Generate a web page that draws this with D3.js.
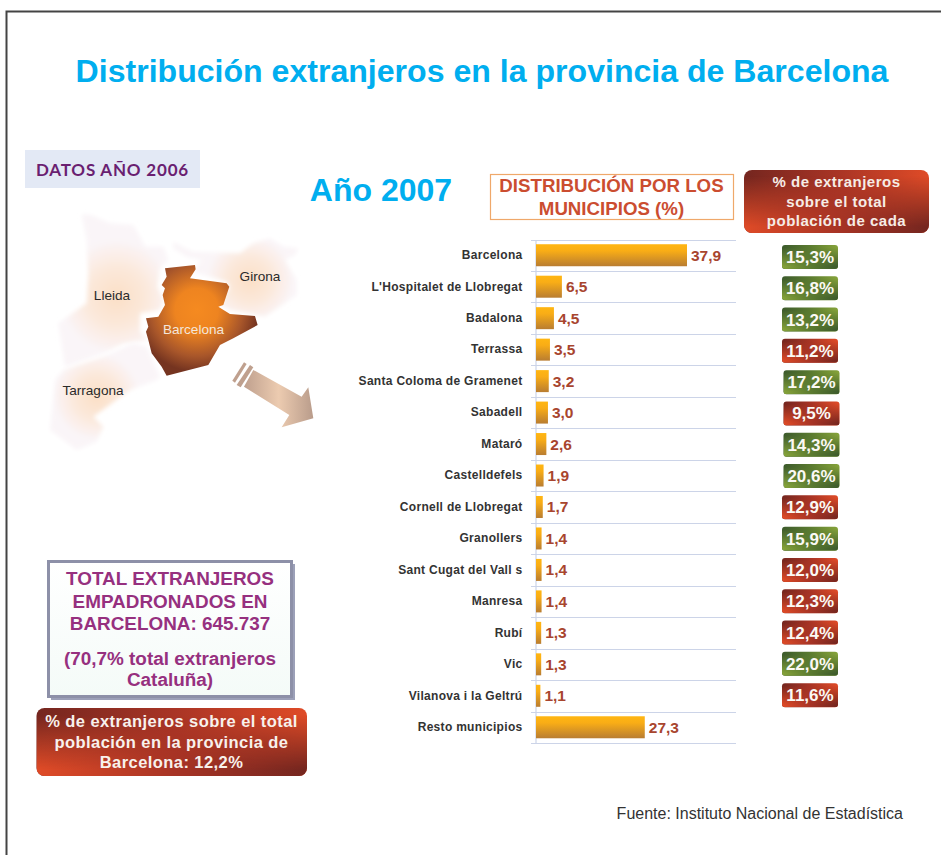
<!DOCTYPE html>
<html lang="es">
<head>
<meta charset="utf-8">
<title>Distribución extranjeros en la provincia de Barcelona</title>
<script src="https://cdn.jsdelivr.net/npm/d3@7"></script>
<style>
html,body{margin:0;padding:0;background:#fff;overflow:hidden}
svg{display:block;font-family:"Liberation Sans",Arial,sans-serif}
</style>
</head>
<body>
<div id="chart"></div>
<script>
const municipios = ["Barcelona","L'Hospitalet de Llobregat","Badalona","Terrassa","Santa Coloma de Gramenet","Sabadell","Mataró","Castelldefels","Cornell de Llobregat","Granollers","Sant Cugat del Vall s","Manresa","Rubí","Vic","Vilanova i la Geltrú","Resto municipios"];
const distribucion = [37.9,6.5,4.5,3.5,3.2,3.0,2.6,1.9,1.7,1.4,1.4,1.4,1.3,1.3,1.1,27.3];
const porcentaje = [15.3,16.8,13.2,11.2,17.2,9.5,14.3,20.6,12.9,15.9,12.0,12.3,12.4,22.0,11.6];
const tituloLineas = ["DISTRIBUCIÓN POR LOS","MUNICIPIOS (%)"];
const cabeceraLineas = ["% de extranjeros","sobre el total","población de cada"];
const totalLineas = ["TOTAL EXTRANJEROS","EMPADRONADOS EN","BARCELONA: 645.737","(70,7% total extranjeros","Cataluña)"];
const mediaLineas = ["% de extranjeros sobre el total","población en la provincia de","Barcelona: 12,2%"];
const mapLabels = ["Lleida","Girona","Barcelona","Tarragona"];

const W = 941, H = 855;
const coma = v => v.toFixed(1).replace(".", ",");
const svg = d3.select("#chart").append("svg").attr("width", W).attr("height", H).attr("viewBox", `0 0 ${W} ${H}`);
const defs = svg.append("defs");

function linear(id, stops, dir) {
  const g = defs.append("linearGradient").attr("id", id)
    .attr("x1", 0).attr("y1", 0).attr("x2", dir === "h" ? 1 : 0).attr("y2", dir === "h" ? 0 : 1);
  stops.forEach(s => g.append("stop").attr("offset", s[0]).attr("stop-color", s[1]));
}
linear("barFill", [[0,"#ffb612"],[0.3,"#f9ad16"],[1,"#b97d31"]], "v");
linear("redA", [[0,"#74261f"],[0.5,"#a83425"],[1,"#df4b27"]], "h");
linear("redB", [[0,"#df4b27"],[0.5,"#a83425"],[1,"#74261f"]], "h");
linear("greenA", [[0,"#3c5a2c"],[0.5,"#5b7b30"],[1,"#86a33a"]], "h");
linear("greenB", [[0,"#86a33a"],[0.5,"#5b7b30"],[1,"#3c5a2c"]], "h");
linear("fadeV", [[0.1,"#000"],[0.9,"#fff"]], "v");
linear("arrowFill", [[0,"#bfa08e"],[0.5,"#eccbb0"],[1,"#b99c8b"]], "h");
linear("boxFill", [[0,"#fff"],[1,"#f4fbf8"]], "v");
defs.append("mask").attr("id", "fade").attr("maskContentUnits", "objectBoundingBox")
  .append("rect").attr("width", 1).attr("height", 1).attr("fill", "url(#fadeV)");
defs.append("filter").attr("id", "soft").attr("x", "-10%").attr("y", "-10%").attr("width", "120%").attr("height", "120%")
  .append("feGaussianBlur").attr("stdDeviation", 6);

function radial(id, cx, cy, r, stops) {
  const g = defs.append("radialGradient").attr("id", id).attr("gradientUnits", "userSpaceOnUse")
    .attr("cx", cx).attr("cy", cy).attr("r", r);
  stops.forEach(s => g.append("stop").attr("offset", s[0]).attr("stop-color", s[1]));
}
const peach = [[0,"#fbdfc6"],[0.5,"#fbe8da"],[1,"#faf5f8"]];
radial("gLleida", 290, 470, 170, peach);
radial("gGirona", 690, 420, 130, peach);
radial("gTarragona", 230, 770, 130, peach);
radial("gBarcelona", 530, 510, 185, [[0,"#f58a20"],[0.35,"#ee8420"],[0.75,"#a8562a"],[1,"#753420"]]);

function gradBox(g, x, y, w, h, r, tone) {
  g.append("rect").attr("x", x).attr("y", y).attr("width", w).attr("height", h).attr("rx", r).attr("fill", `url(#${tone}A)`);
  g.append("rect").attr("x", x).attr("y", y).attr("width", w).attr("height", h).attr("rx", r).attr("fill", `url(#${tone}B)`).attr("mask", "url(#fade)");
}
function lines(g, arr, cx, ys, size, fill, spacing) {
  g.selectAll(null).data(arr).join("text")
    .attr("x", cx).attr("y", (d, i) => ys[i]).attr("text-anchor", "middle")
    .attr("font-size", size).attr("font-weight", "bold").attr("letter-spacing", spacing || 0).attr("fill", fill).text(d => d);
}

// Frame
svg.append("path").attr("d", `M6.5 ${H}V11.5H${W}`).attr("fill", "none").attr("stroke", "#444").attr("stroke-width", 2);

// Titles
svg.append("text").attr("x", 482).attr("y", 82).attr("text-anchor", "middle").attr("font-size", 32.1).attr("font-weight", "bold").attr("fill", "#00aeef")
  .text("Distribución extranjeros en la provincia de Barcelona");
svg.append("text").attr("x", 381).attr("y", 201).attr("text-anchor", "middle").attr("font-size", 32).attr("font-weight", "bold").attr("fill", "#00aeef").text("Año 2007");

// DATOS box
svg.append("rect").attr("x", 25).attr("y", 150).attr("width", 175).attr("height", 38).attr("fill", "#e3e9f5");
svg.append("text").attr("x", 112.5).attr("y", 176).attr("text-anchor", "middle").attr("font-family", "Lato,sans-serif")
  .attr("font-size", 17).attr("letter-spacing", 0.8).attr("font-weight", "bold").attr("fill", "#6a1f71").text("DATOS AÑO 2006");

// Map
const map = svg.append("g").attr("transform", "translate(20,140) scale(0.3333)");
const line = d3.line().curve(d3.curveLinearClosed);
const shapes = [
  ["gLleida", true, [[185,222],[215,226],[270,250],[340,255],[360,290],[375,320],[430,320],[445,360],[420,385],[412,440],[430,480],[420,510],[360,520],[360,575],[385,600],[310,610],[250,640],[135,680],[115,550],[200,490],[205,400],[200,300]]],
  ["gGirona", true, [[460,305],[490,322],[520,335],[660,340],[700,310],[750,295],[790,320],[835,325],[825,345],[795,360],[830,420],[830,465],[735,530],[630,510],[600,495],[630,440],[620,425],[520,395],[545,360],[500,350],[460,325]]],
  ["gTarragona", true, [[340,610],[380,620],[420,710],[410,720],[330,750],[220,830],[250,860],[230,905],[170,930],[90,870],[105,720],[130,690],[250,650]]],
  ["gBarcelona", false, [[435,385],[525,375],[527,388],[510,415],[620,430],[628,440],[610,495],[595,500],[630,522],[705,528],[713,555],[640,595],[600,615],[565,675],[440,707],[425,680],[395,640],[385,600],[378,575],[385,560],[378,535],[415,530],[435,495],[428,465],[435,445],[425,435],[440,410]]]
];
shapes.forEach(s => {
  const p = map.append("path").attr("d", line(s[2])).attr("fill", `url(#${s[0]})`);
  if (s[1]) p.attr("filter", "url(#soft)");
});
const arrow = [
  [[700,690],[845,770],[865,742],[880,835],[785,862],[808,825],[672,740]],
  [[672,667],[680,672],[645,728],[637,722]],
  [[690,675],[700,682],[662,742],[650,735]]
];
map.selectAll(null).data(arrow).join("path").attr("d", d => line(d))
  .attr("fill", (d, i) => i ? "#bfa08e" : "url(#arrowFill)");
const mapLabelX = [112,260,193.5,93], mapLabelY = [300,281,334,395];
svg.selectAll(null).data(mapLabels).join("text")
  .attr("x", (d, i) => mapLabelX[i]).attr("y", (d, i) => mapLabelY[i]).attr("text-anchor", "middle")
  .attr("font-size", 13.6).attr("fill", d => d === "Barcelona" ? "#f3e6da" : "#2a2a2a").text(d => d);

// Column headers
svg.append("rect").attr("x", 490.5).attr("y", 174.5).attr("width", 243).attr("height", 45).attr("fill", "#fff").attr("stroke", "#efa86a").attr("stroke-width", 1.2);
lines(svg, tituloLineas, 611.5, [192,214.5], 18.7, "#cb4d30");
const cab = svg.append("g");
gradBox(cab, 744, 170, 185, 63, 8, "red");
lines(cab, cabeceraLineas, 836.5, [187,206.5,226], 15, "#f6ece6", 0.5);

// Bars
const x = d3.scaleLinear().domain([0, 37.9]).range([536, 687]);
const y = d3.scaleBand().domain(municipios).range([239.5, 743]);
svg.append("g").selectAll("line").data(d3.range(municipios.length + 1)).join("line")
  .attr("x1", 531).attr("x2", 736)
  .attr("y1", i => Math.round(239.5 + i * y.bandwidth()) + 0.5)
  .attr("y2", i => Math.round(239.5 + i * y.bandwidth()) + 0.5)
  .attr("stroke", "#ccd4e8").attr("stroke-width", 1.2);
const axis = svg.append("g").attr("transform", "translate(535.5,0)")
  .call(d3.axisLeft(y).tickSize(0).tickPadding(13));
axis.select(".domain").attr("stroke", "#ccd4e8").attr("stroke-width", 1.2);
axis.selectAll("text").attr("font-family", "'Liberation Sans',Arial,sans-serif").attr("font-size", 12).attr("letter-spacing", 0.3).attr("font-weight", "bold").attr("fill", "#333");
const barH = 22;
svg.selectAll(".bar").data(municipios).join("rect").attr("class", "bar")
  .attr("x", x(0)).attr("width", (d, i) => x(distribucion[i]) - x(0))
  .attr("y", d => y(d) + (y.bandwidth() - barH) / 2).attr("height", barH)
  .attr("fill", "url(#barFill)");
svg.selectAll(".val").data(municipios).join("text").attr("class", "val")
  .attr("x", (d, i) => x(distribucion[i]) + 4)
  .attr("y", d => y(d) + y.bandwidth() / 2 + 5.5)
  .attr("font-size", 15.5).attr("font-weight", "bold").attr("fill", "#a8452e")
  .text((d, i) => coma(distribucion[i]));

// Percentage badges
const bandY = d3.scaleBand().domain(porcentaje.map((d, i) => i)).range([241.3, 710.8]);
const verdes = new Set([15.3,16.8,13.2,17.2,14.3,20.6,15.9,22.0]);
const bw = 56, bh = 24;
porcentaje.forEach((v, i) => {
  const g = svg.append("g").attr("class", "badge");
  const bx = (i >= 4 && i <= 7) ? 783.5 : 782;
  const by = bandY(i) + (bandY.bandwidth() - bh) / 2;
  gradBox(g, bx, by, bw, bh, 3, verdes.has(v) ? "green" : "red");
  g.append("text").attr("x", bx + bw / 2).attr("y", by + 18).attr("text-anchor", "middle")
    .attr("font-size", 17).attr("font-weight", "bold").attr("fill", "#fbf9f4").text(coma(v) + "%");
});

// Total box
svg.append("rect").attr("x", 51).attr("y", 564).attr("width", 244).attr("height", 136).attr("fill", "#9ca0b8");
svg.append("rect").attr("x", 48.5).attr("y", 561.5).attr("width", 243).attr("height", 135).attr("fill", "url(#boxFill)").attr("stroke", "#8d90a8").attr("stroke-width", 3);
lines(svg, totalLineas, 170, [585,608,630,665,686], 18.9, "#96307f");

// Media box
const media = svg.append("g");
gradBox(media, 36.5, 708, 270.5, 68, 8, "red");
lines(media, mediaLineas, 171.5, [727,748,768], 16.5, "#f8f1ec", 0.43);

// Source
svg.append("text").attr("x", 903).attr("y", 819).attr("text-anchor", "end").attr("font-size", 16).attr("fill", "#333").text("Fuente: Instituto Nacional de Estadística");
</script>
</body>
</html>
